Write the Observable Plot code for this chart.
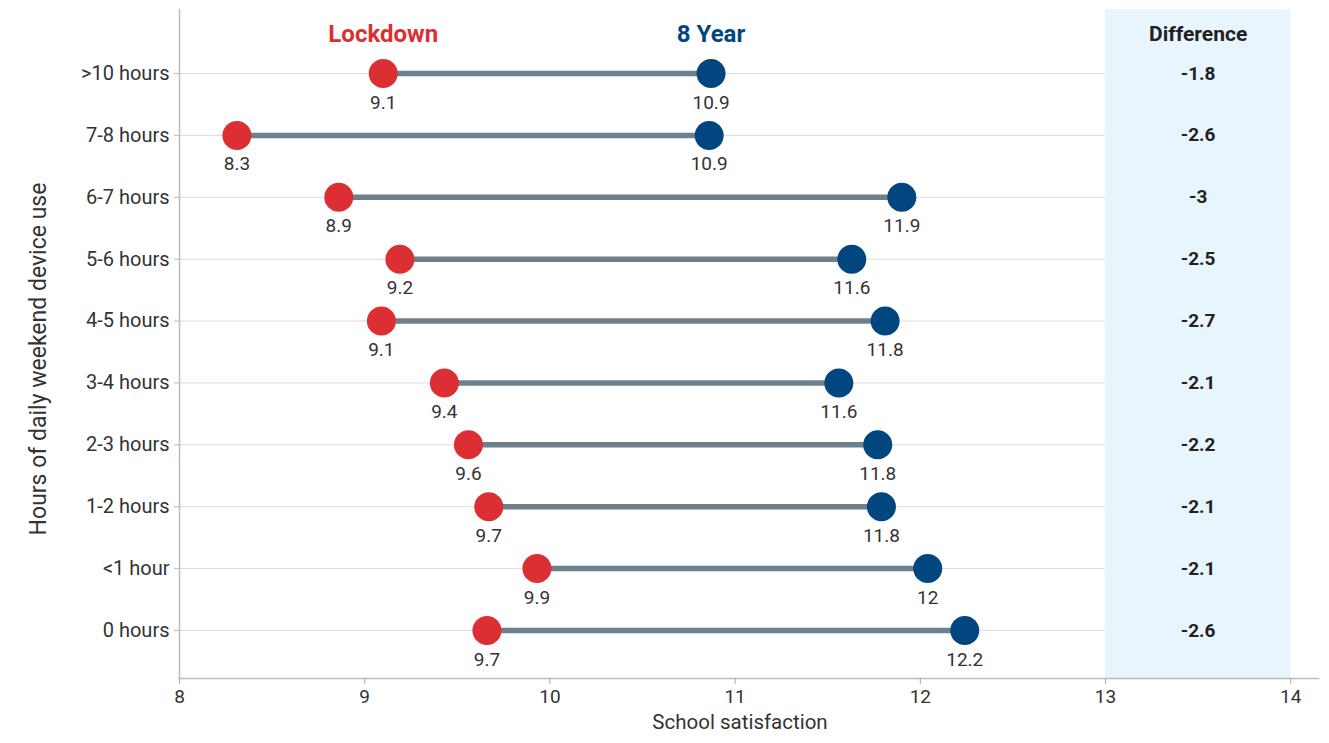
<!DOCTYPE html>
<html><head><meta charset="utf-8">
<script src="https://cdn.jsdelivr.net/npm/d3@7"></script>
<script src="https://cdn.jsdelivr.net/npm/@observablehq/plot@0.6"></script>
<style>body{margin:0;background:#fff}</style>
</head><body><div id="chart"></div>
<script>
const categories = [">10 hours","7-8 hours","6-7 hours","5-6 hours","4-5 hours","3-4 hours","2-3 hours","1-2 hours","<1 hour","0 hours"];
const lockdown = [9.10, 8.31, 8.86, 9.19, 9.09, 9.43, 9.56, 9.67, 9.93, 9.66];
const eightYear = [10.87, 10.86, 11.90, 11.63, 11.81, 11.56, 11.77, 11.79, 12.04, 12.24];
const difference = ["-1.8","-2.6","-3","-2.5","-2.7","-2.1","-2.2","-2.1","-2.1","-2.6"];
const xTicks = [8, 9, 10, 11, 12, 13, 14];
const seriesNames = ["Lockdown", "8 Year"];
const diffColumn = {label: "Difference", from: 13, to: 14};

const rows = categories.map((c, i) => ({category: c, lockdown: lockdown[i], eightYear: eightYear[i], difference: difference[i]}));
const fmt = v => String(+v.toFixed(1));
const RED = "#dc2f34", BLUE = "#02467f", LINE = "#6e808e", TXT = "#333";

const chart = Plot.plot({
  width: 1329,
  height: 743,
  marginLeft: 179,
  marginRight: 11,
  marginTop: 9,
  marginBottom: 65,
  style: {fontFamily: "Roboto, 'Noto Sans', sans-serif", fontSize: "19px", color: TXT, background: "#fff"},
  x: {domain: [8, 14.15], ticks: xTicks, label: null},
  y: {domain: categories, range: [73, 630], padding: 0, round: false, label: null, axis: null},
  marks: [
    Plot.rect([diffColumn], {x1: "from", x2: "to", fill: "#e8f5fc"}),
    Plot.ruleY(rows, {y: "category", x1: 8, x2: 13, stroke: "#dcdcdc", strokeWidth: 1}),
    Plot.frame({anchor: "left", stroke: "#bdbdbd", strokeWidth: 1.5}),
    Plot.frame({anchor: "bottom", stroke: "#bdbdbd", strokeWidth: 1.5}),
    Plot.axisX({ticks: xTicks, tickFormat: d => String(d), tickSize: 6, tickPadding: 5, stroke: "#aaa", fill: TXT, fontSize: 19, label: null}),
    Plot.text(["School satisfaction"], {frameAnchor: "bottom", dx: -9, dy: 50, fontSize: 20.5, fill: TXT}),
    Plot.axisY({tickSize: 5, tickPadding: 5, stroke: "#bbb", fill: TXT, fontSize: 20, label: null}),
    Plot.text(["Hours of daily weekend device use"], {frameAnchor: "left", textAnchor: "middle", dx: -141, dy: 15, rotate: -90, fontSize: 23, fill: TXT}),
    Plot.link(rows, {y1: "category", y2: "category", x1: "lockdown", x2: "eightYear", stroke: LINE, strokeWidth: 5.5}),
    Plot.dot(rows, {y: "category", x: "lockdown", r: 14.5, fill: RED}),
    Plot.dot(rows, {y: "category", x: "eightYear", r: 14.5, fill: BLUE}),
    Plot.text(rows, {y: "category", x: "lockdown", text: d => fmt(d.lockdown), dy: 29, fontSize: 19, fill: TXT}),
    Plot.text(rows, {y: "category", x: "eightYear", text: d => fmt(d.eightYear), dy: 29, fontSize: 19, fill: TXT}),
    Plot.text(rows, {y: "category", x: () => (diffColumn.from + diffColumn.to) / 2, text: "difference", fontSize: 19, fontWeight: "bold", fill: "#222"}),
    Plot.text([rows[0]], {y: "category", x: "lockdown", text: () => seriesNames[0], dy: -39, fontSize: 24, fontWeight: "bold", fill: RED}),
    Plot.text([rows[0]], {y: "category", x: "eightYear", text: () => seriesNames[1], dy: -39, fontSize: 24, fontWeight: "bold", fill: BLUE}),
    Plot.text([rows[0]], {y: "category", x: () => (diffColumn.from + diffColumn.to) / 2, text: () => diffColumn.label, dy: -39, fontSize: 21, fontWeight: "bold", fill: "#222"})
  ]
});
document.getElementById("chart").appendChild(chart);
</script></body></html>
